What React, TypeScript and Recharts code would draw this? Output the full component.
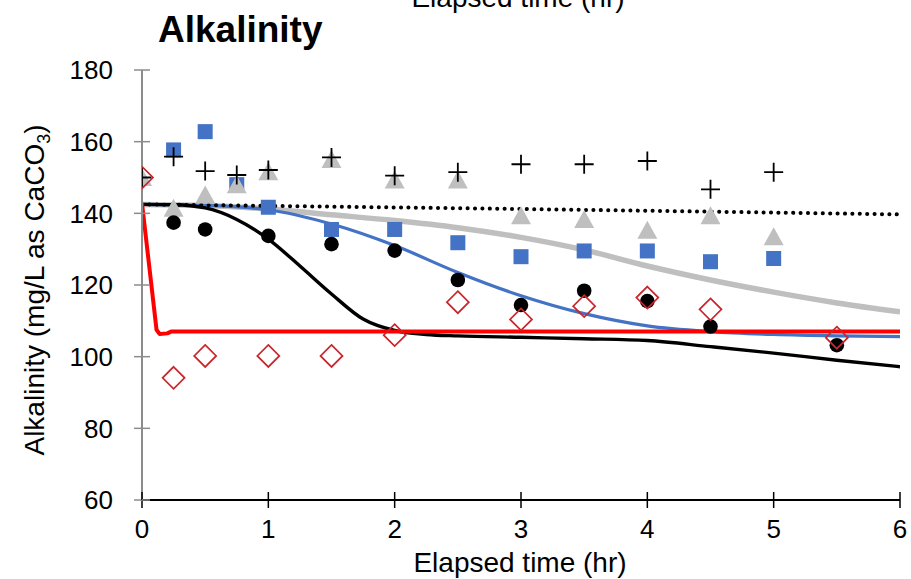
import React from 'react';
import { ComposedChart, Line, Scatter, XAxis, YAxis } from 'recharts';

// measured alkalinity, one array pair per sample set
const crossTimes = [0, 0.25, 0.5, 0.75, 1, 1.5, 2, 2.5, 3, 3.5, 4, 4.5, 5];
const crossValues = [150, 155.8, 151.8, 150.7, 152.1, 155.6, 150.5, 151.5, 153.7, 153.7, 154.6, 146.7, 151.5];

const squareTimes = [0.25, 0.5, 0.75, 1, 1.5, 2, 2.5, 3, 3.5, 4, 4.5, 5];
const squareValues = [157.7, 162.8, 148, 141.7, 135.5, 135.5, 131.8, 127.9, 129.5, 129.5, 126.5, 127.4];

const triangleTimes = [0, 0.25, 0.5, 0.75, 1, 1.5, 2, 2.5, 3, 3.5, 4, 4.5, 5];
const triangleValues = [150, 141.4, 145.1, 148, 151.6, 155, 149.3, 149.3, 139.3, 138.3, 135.3, 139.3, 133.5];

const circleTimes = [0.25, 0.5, 1, 1.5, 2, 2.5, 3, 3.5, 4, 4.5, 5.5];
const circleValues = [137.4, 135.5, 133.7, 131.4, 129.6, 121.4, 114.4, 118.4, 115.5, 108.4, 103.2];

const diamondTimes = [0, 0.25, 0.5, 1, 1.5, 2, 2.5, 3, 3.5, 4, 4.5, 5.5];
const diamondValues = [150, 94.1, 100.2, 100.2, 100.2, 106, 115.2, 110.4, 114.1, 116.5, 113.2, 105.3];

// model curves
const grayTimes = [0, 0.5, 1, 1.5, 2, 2.5, 3, 3.5, 4, 4.5, 5, 5.5, 6];
const grayValues = [142.5, 142.2, 141.2, 139.6, 138, 136, 133.3, 129.8, 125.3, 121.4, 118, 115, 112.5];

const blueTimes = [0, 0.5, 1, 1.5, 2, 2.5, 3, 3.5, 4, 4.5, 5, 5.5, 6];
const blueValues = [142.5, 142.2, 141, 137, 131, 123.5, 117, 112, 108.6, 107, 106.2, 105.8, 105.6];

const blackTimes = [0, 0.25, 0.5, 0.75, 1, 1.25, 1.5, 1.75, 2, 2.25, 2.5, 3, 3.5, 4, 4.5, 5, 5.5, 6];
const blackValues = [142.5, 142.4, 141.5, 138.3, 132.8, 125.3, 117.5, 110.5, 107.3, 106.2, 105.8, 105.4, 105, 104.5, 102.8, 101, 99, 97.2];

const dottedTimes = [0, 3, 6];
const dottedValues = [142.5, 141.2, 139.7];

const redTimes = [0, 0.115, 0.14, 0.2, 0.23, 1, 2, 3, 4, 5, 6];
const redValues = [142.8, 107.5, 106.3, 106.5, 107, 107, 107, 107, 107, 107, 107];

const xTicks = [0, 1, 2, 3, 4, 5, 6];
const yTicks = [60, 80, 100, 120, 140, 160, 180];

const zip = (ts: number[], vs: number[]) => ts.map((t, i) => ({ t, v: vs[i] }));

const FONT = '"Liberation Sans", Arial, sans-serif';
const AXIS_GRAY = '#8c8c8c';
const Y_OFF = 29; // tickSize + tickMargin on the y axis
const X_OFF = 20; // tickSize + tickMargin on the x axis

const YTick = ({ x, y, payload }: any) => (
  <g>
    <line x1={x + Y_OFF} x2={x + Y_OFF + 8} y1={y} y2={y} stroke={AXIS_GRAY} strokeWidth={1.5} />
    <text x={x} y={y} dy="0.355em" textAnchor="end" fontSize={26} fontFamily={FONT} fill="#000">
      {payload.value}
    </text>
  </g>
);

const XTick = ({ x, y, payload }: any) => (
  <g>
    <line x1={x} x2={x} y1={y - X_OFF - 8} y2={y - X_OFF} stroke="#000" strokeWidth={1.5} />
    <text x={x} y={y} dy="0.71em" textAnchor="middle" fontSize={26} fontFamily={FONT} fill="#000">
      {payload.value}
    </text>
  </g>
);

const CrossMark = ({ cx, cy }: any) => (
  <path d={`M${cx - 9.5},${cy}H${cx + 9.5}M${cx},${cy - 9.5}V${cy + 9.5}`} stroke="#000" strokeWidth={1.8} fill="none" />
);
const TriangleMark = ({ cx, cy }: any) => (
  <polygon points={`${cx},${cy - 9.5} ${cx + 10},${cy + 8.5} ${cx - 10},${cy + 8.5}`} fill="#BFBFBF" />
);
const SquareMark = ({ cx, cy }: any) => <rect x={cx - 7.5} y={cy - 7.5} width={15} height={15} fill="#4472C4" />;
const CircleMark = ({ cx, cy }: any) => <circle cx={cx} cy={cy} r={7.3} fill="#000" />;
const DiamondMark = ({ cx, cy }: any) => (
  <polygon
    points={`${cx},${cy - 11} ${cx + 11},${cy} ${cx},${cy + 11} ${cx - 11},${cy}`}
    fill="none"
    stroke="#C8262C"
    strokeWidth={1.7}
  />
);

export default function App() {
  return (
    <div style={{ position: 'absolute', left: 0, top: 0, width: 911, height: 579, background: '#fff' }}>
      <ComposedChart width={911} height={579} margin={{ top: 70, right: 11, bottom: 0, left: 0 }}>
        <XAxis
          dataKey="t"
          type="number"
          domain={[0, 6]}
          ticks={xTicks}
          height={79}
          axisLine={{ stroke: '#000', strokeWidth: 2 }}
          tickLine={{ stroke: '#000', strokeWidth: 1.5 }}
          tickSize={8}
          tickMargin={12}
          tick={<XTick />}
          allowDataOverflow
        />
        <XAxis xAxisId="top" orientation="top" type="number" domain={[0, 6]} height={0} tick={false} tickLine={false} axisLine={{ stroke: '#000', strokeWidth: 2 }} />
        <YAxis
          dataKey="v"
          type="number"
          domain={[60, 180]}
          ticks={yTicks}
          width={142}
          axisLine={{ stroke: AXIS_GRAY, strokeWidth: 2 }}
          tickLine={{ stroke: AXIS_GRAY, strokeWidth: 1.5 }}
          tickSize={8}
          tickMargin={21}
          tick={<YTick />}
          allowDataOverflow
        />
        <YAxis yAxisId="right" orientation="right" type="number" domain={[60, 180]} width={0} tick={false} tickLine={false} axisLine={{ stroke: '#000', strokeWidth: 2 }} />

        <Scatter data={zip(squareTimes, squareValues)} shape={<SquareMark />} isAnimationActive={false} />
        <Scatter data={zip(triangleTimes, triangleValues)} shape={<TriangleMark />} isAnimationActive={false} />
        <Scatter data={zip(circleTimes, circleValues)} shape={<CircleMark />} isAnimationActive={false} />
        <Scatter data={zip(crossTimes, crossValues)} shape={<CrossMark />} isAnimationActive={false} />
        <Scatter data={zip(diamondTimes, diamondValues)} shape={<DiamondMark />} isAnimationActive={false} />

        <Line data={zip(grayTimes, grayValues)} dataKey="v" type="monotone" stroke="#BFBFBF" strokeWidth={5.5} dot={false} activeDot={false} isAnimationActive={false} />
        <Line data={zip(blueTimes, blueValues)} dataKey="v" type="monotone" stroke="#4472C4" strokeWidth={3.2} dot={false} activeDot={false} isAnimationActive={false} />
        <Line data={zip(blackTimes, blackValues)} dataKey="v" type="monotone" stroke="#000" strokeWidth={3.4} dot={false} activeDot={false} isAnimationActive={false} />
        <Line
          data={zip(dottedTimes, dottedValues)}
          dataKey="v"
          type="monotone"
          stroke="#000"
          strokeWidth={4}
          strokeDasharray="0.1 7.3"
          strokeLinecap="round"
          dot={false}
          activeDot={false}
          isAnimationActive={false}
        />
        <Line data={zip(redTimes, redValues)} dataKey="v" type="linear" stroke="#FF0000" strokeWidth={4} strokeLinejoin="round" dot={false} activeDot={false} isAnimationActive={false} />
      </ComposedChart>

      <svg width={911} height={579} style={{ position: 'absolute', left: 0, top: 0, pointerEvents: 'none' }}>
        <text x={518} y={7} textAnchor="middle" fontSize={28} fontFamily={FONT} fill="#000">
          Elapsed time (hr)
        </text>
        <text x={158} y={42} fontSize={37} fontWeight="bold" fontFamily={FONT} fill="#000">
          Alkalinity
        </text>
        <text x={520} y={572} textAnchor="middle" fontSize={28} fontFamily={FONT} fill="#000">
          Elapsed time (hr)
        </text>
        <text transform="translate(44,290) rotate(-90)" textAnchor="middle" fontSize={28} fontFamily={FONT} fill="#000">
          Alkalinity (mg/L as CaCO
          <tspan fontSize={18} dy={6}>3</tspan>
          <tspan dy={-6}>)</tspan>
        </text>
      </svg>
    </div>
  );
}
